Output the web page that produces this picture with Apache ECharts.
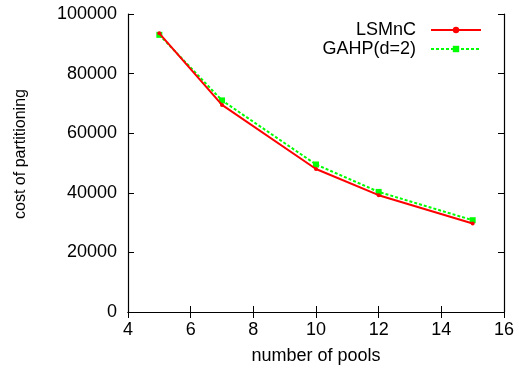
<!DOCTYPE html>
<html><head><meta charset="utf-8">
<script src="https://cdn.jsdelivr.net/npm/echarts@6/dist/echarts.min.js"></script>
<style>html,body{margin:0;padding:0;background:#fff}#c{width:519px;height:374px}</style>
</head><body><div id="c"></div>
<script>
const pools = [5, 7, 10, 12, 15];
const lsmnc = [93500, 69500, 48000, 39200, 29700];
const gahp = [93000, 71000, 49500, 40300, 30800];
const xTicks = [4, 6, 8, 10, 12, 14, 16];
const yTicks = [0, 20000, 40000, 60000, 80000, 100000];

const font = 'Liberation Sans, Arial, sans-serif';
const fs = 18;
const chart = echarts.init(document.getElementById('c'), null, {renderer: 'canvas'});
const axisLine = {show: true, lineStyle: {color: '#000', width: 1.2}};
const tick = {show: true, inside: true, length: 6, lineStyle: {color: '#000'}};
chart.setOption({
  animation: false,
  grid: {left: 128, right: 15, top: 14, bottom: 62},
  legend: {
    orient: 'vertical', right: 37, top: 21, align: 'right',
    itemWidth: 50, itemHeight: 8, itemGap: 1, padding: 0,
    textStyle: {fontFamily: font, fontSize: fs, color: '#000', padding: [0, 10, 0, 0]},
    data: ['LSMnC', 'GAHP(d=2)']
  },
  xAxis: [{
    type: 'value', min: xTicks[0], max: xTicks[xTicks.length - 1], interval: 2,
    name: 'number of pools', nameLocation: 'middle', nameGap: 35,
    nameTextStyle: {fontFamily: font, fontSize: fs, color: '#000'},
    axisLine: axisLine, axisTick: tick,
    axisLabel: {fontFamily: font, fontSize: fs, color: '#000', margin: 9},
    splitLine: {show: false}
  }, {
    type: 'value', position: 'top', min: xTicks[0], max: xTicks[xTicks.length - 1], interval: 2,
    axisLine: axisLine, axisTick: tick,
    axisLabel: {show: false}, splitLine: {show: false}
  }],
  yAxis: [{
    type: 'value', min: yTicks[0], max: yTicks[yTicks.length - 1], interval: 20000,
    name: 'cost of partitioning', nameLocation: 'middle', nameGap: 99,
    nameTextStyle: {fontFamily: font, fontSize: 16, color: '#000', padding: [0, 0, 0, 18]},
    axisLine: axisLine, axisTick: tick,
    axisLabel: {fontFamily: font, fontSize: fs, color: '#000', margin: 11, formatter: v => String(v)},
    splitLine: {show: false}
  }, {
    type: 'value', position: 'right', min: yTicks[0], max: yTicks[yTicks.length - 1], interval: 20000,
    axisLine: axisLine, axisTick: tick,
    axisLabel: {show: false}, splitLine: {show: false}
  }],
  series: [{
    name: 'LSMnC', type: 'line',
    data: pools.map((p, i) => [p, lsmnc[i]]),
    itemStyle: {color: '#ff0000'},
    lineStyle: {color: '#ff0000', width: 2},
    symbol: 'circle', symbolSize: 4, showSymbol: true, z: 3
  }, {
    name: 'GAHP(d=2)', type: 'line',
    data: pools.map((p, i) => [p, gahp[i]]),
    itemStyle: {color: '#00ff00'},
    lineStyle: {color: '#00ff00', width: 2, type: [3, 2]},
    symbol: 'rect', symbolSize: 6, showSymbol: true, z: 2
  }]
});
</script></body></html>
